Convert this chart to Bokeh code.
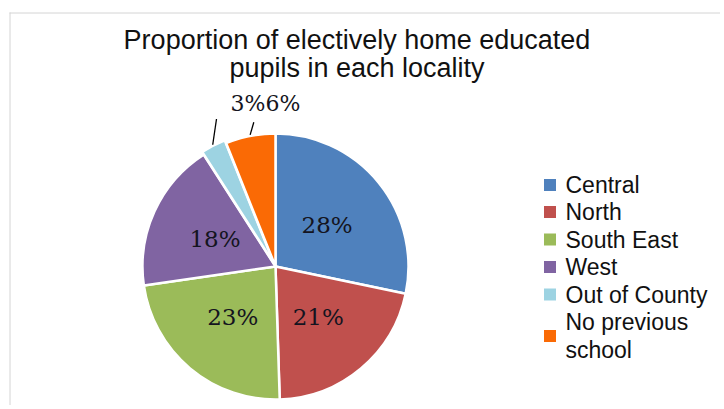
import numpy as np
from bokeh.plotting import figure
from bokeh.models import Label, Range1d
from bokeh.embed import file_html
from bokeh.resources import INLINE

# ---- data ----
categories = ["Central", "North", "South East", "West", "Out of County", "No previous school"]
legend_labels = ["Central", "North", "South East", "West", "Out of County", "No previous\nschool"]
shares = [28, 21, 23, 18, 3, 6]
title_lines = ["Proportion of electively home educated", "pupils in each locality"]

# ---- style ----
colors = ["#4F81BD", "#C0504D", "#9BBB59", "#8064A2", "#9DD3E2", "#FA6A05"]
explode = [0, 0, 0, 0, 3, 0]

W, H = 720, 405
def px(X):
    return X
def py(Y):
    return H - Y

p = figure(width=W, height=H, x_range=Range1d(0, W), y_range=Range1d(0, H),
           output_backend="svg", toolbar_location=None, min_border=0)
p.xaxis.visible = False
p.yaxis.visible = False
p.xgrid.visible = False
p.ygrid.visible = False
p.outline_line_color = None
p.background_fill_color = "white"
p.border_fill_color = "white"

# frame lines of the chart area
p.line([px(9), W], [py(12.5), py(12.5)], line_color="#d4d4d4", line_width=1)
p.line([px(9.5), px(9.5)], [py(12), 0], line_color="#d4d4d4", line_width=1)

# title
for i, t in enumerate(title_lines):
    p.add_layout(Label(x=px(356.5), y=py(39.5 + 28 * i), text=t, text_align="center",
                       text_baseline="alphabetic", text_font="Liberation Sans",
                       text_font_size="27px", text_color="#111111"))

# pie
cx, cy, R = px(275), py(266), 133
vals = np.array(shares, dtype=float)
frac = vals / vals.sum()
cum_end = np.cumsum(frac)
cum_start = cum_end - frac
theta_mid = (cum_start + cum_end) / 2 * 2 * np.pi  # clockwise from 12 o'clock
xs = cx + np.array(explode) * np.sin(theta_mid)
ys = cy + np.array(explode) * np.cos(theta_mid)
p.wedge(x=xs, y=ys, radius=R, radius_units="screen",
        start_angle=np.pi / 2 - cum_start * 2 * np.pi,
        end_angle=np.pi / 2 - cum_end * 2 * np.pi,
        direction="clock", fill_color=colors, line_color="white", line_width=2.5)

pct_font = "DejaVu Serif"
ext_anchor = [(247.5, 103), (282.5, 103)]
leader_end = [(216, 118.5), (253.3, 121.7)]
k = 0
for i, v in enumerate(shares):
    txt = f"{v}%"
    if frac[i] >= 0.08:
        lx = cx + 0.5 * R * np.sin(theta_mid[i])
        ly = cy + 0.5 * R * np.cos(theta_mid[i])
        p.add_layout(Label(x=lx, y=ly, text=txt, text_align="center", text_baseline="middle",
                           text_font=pct_font, text_font_size="23px", text_color="#141420"))
    else:
        ax, ay = ext_anchor[k]
        ex, ey = leader_end[k]
        sx = xs[i] + (R + 1) * np.sin(theta_mid[i])
        sy = ys[i] + (R + 1) * np.cos(theta_mid[i])
        p.line([sx, px(ex)], [sy, py(ey)], line_color="#000000", line_width=1.3)
        p.add_layout(Label(x=px(ax), y=py(ay), text=txt, text_align="center", text_baseline="middle",
                           text_font=pct_font, text_font_size="22px", text_color="#141420"))
        k += 1

# legend
leg_y = [184.5, 211.5, 239, 266.5, 294, 335.5]
for i, lab in enumerate(legend_labels):
    yc = leg_y[i]
    p.rect(x=[px(549.5)], y=[py(yc)], width=12, height=12, width_units="screen",
           height_units="screen", fill_color=colors[i], line_color=None)
    lines = lab.split("\n")
    n = len(lines)
    for j, ln in enumerate(lines):
        yy = yc + (j - (n - 1) / 2) * 28
        p.add_layout(Label(x=px(565), y=py(yy), text=ln, text_align="left", text_baseline="middle",
                           text_font="Liberation Sans", text_font_size="23px", text_color="#111111"))

open("out.html", "w").write(file_html(p, INLINE))
